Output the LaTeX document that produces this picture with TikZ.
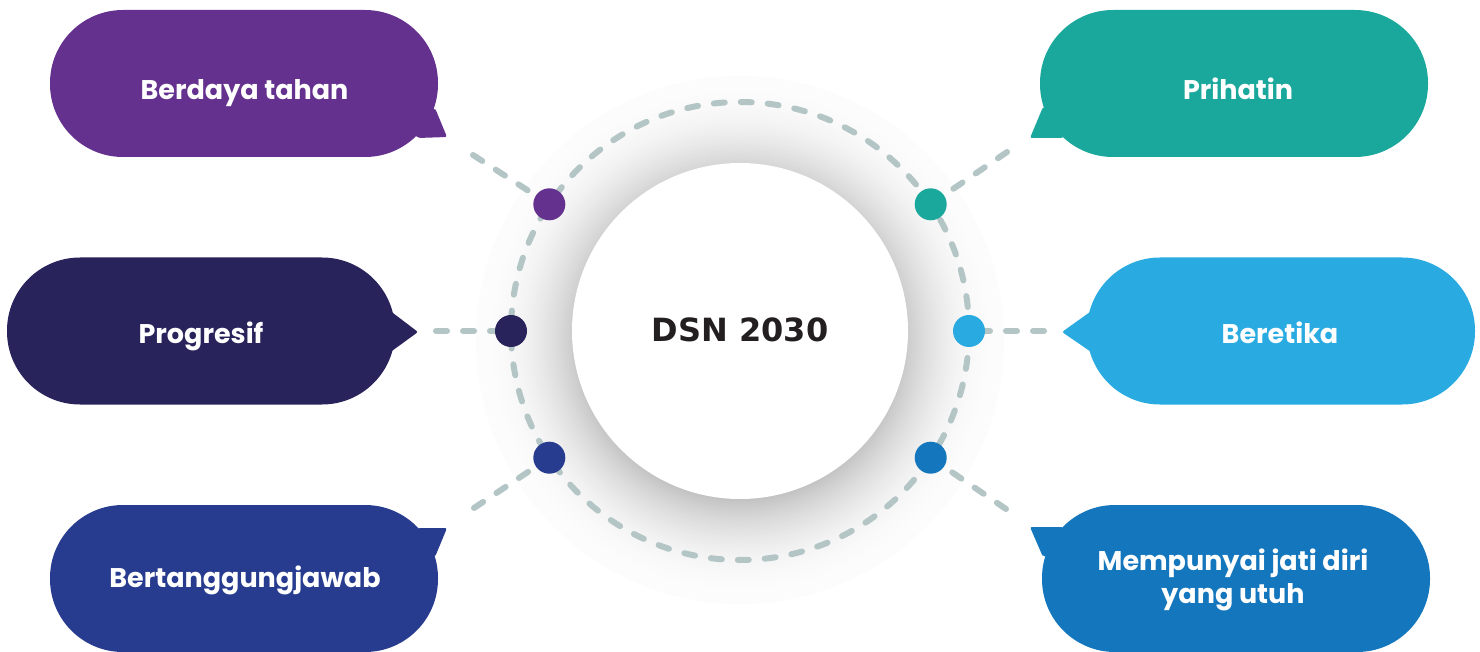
\documentclass[tikz,border=0pt]{standalone}
\usepackage{fontspec}
\setmainfont{Poppins}
\newfontfamily\dsnfont{DejaVu Sans}
\definecolor{cpurple}{HTML}{65318E}
\definecolor{cnavy}{HTML}{29235C}
\definecolor{croyal}{HTML}{283C8F}
\definecolor{cteal}{HTML}{1AA89C}
\definecolor{csky}{HTML}{29ABE2}
\definecolor{cmid}{HTML}{1476BC}
\definecolor{cdash}{RGB}{180,197,198}
\definecolor{ctext}{HTML}{231F20}
\tikzset{
  bubble/.style={rectangle, rounded corners=73pt, minimum width=388pt, minimum height=147pt, inner sep=0pt},
  btext/.style={text=white, font=\fontsize{27}{33}\selectfont\bfseries, inner sep=0pt, align=center},
  dashl/.style={draw=cdash, line width=6pt, line cap=round, dash pattern=on 11pt off 16pt},
  dotnode/.style={circle, minimum size=32pt, inner sep=0pt},
}
\begin{document}
\begin{tikzpicture}[x=1pt,y=-1pt]
\useasboundingbox (0,0) rectangle (1480,652);
% glow and central circle
\foreach \r in {264,262,...,150} {
  \pgfmathsetmacro\p{min(24, 1+23*((264-\r)/104)^2.2)}
  \fill[black!\p] (740,340) circle[radius=\r];
}
\node[circle, fill=white, minimum size=336pt, inner sep=0pt] (c) at (740,331) {};
\node[font=\fontsize{32}{36}\selectfont\dsnfont\bfseries, text=ctext, anchor=base] (ct) at (740,341) {DSN 2030};
% dashed circle
\draw[dashl] (c.center) circle[radius=229];
% bubbles
\node[bubble, fill=cpurple] (b1) at (244,83.5) {};
\fill[cpurple, rounded corners=2pt] (418,138) -- (447,137) -- (435,108) -- (400,120) -- cycle;
\node[bubble, fill=cnavy] (b2) at (201,331) {};
\fill[cnavy, rounded corners=2pt] (385,307) -- (418,332) -- (385,356) -- cycle;
\node[bubble, fill=croyal] (b3) at (244,578.5) {};
\fill[croyal, rounded corners=2pt] (418,528) -- (447,528) -- (435,557) -- (400,545) -- cycle;
\node[bubble, fill=cteal] (b4) at (1234,83.5) {};
\fill[cteal, rounded corners=2pt] (1063,138) -- (1030,138) -- (1043,107) -- (1078,120) -- cycle;
\node[bubble, fill=csky] (b5) at (1281,331) {};
\fill[csky, rounded corners=2pt] (1097,307) -- (1062,332) -- (1097,356) -- cycle;
\node[bubble, fill=cmid] (b6) at (1236,578.5) {};
\fill[cmid, rounded corners=2pt] (1030,527) -- (1063,527) -- (1078,545) -- (1043,557) -- cycle;
% texts
\node[btext, anchor=base] (t1) at (244.5,100) {Berdaya tahan};
\node[btext, anchor=base] (t2) at (201,343) {Progresif};
\node[btext, anchor=base] (t3) at (245,587) {Bertanggungjawab};
\node[btext, anchor=base] (t4) at (1238,100) {Prihatin};
\node[btext, anchor=base] (t5) at (1280,343) {Beretika};
\node[btext] (t6) at (1233,580) {Mempunyai jati diri\\yang utuh};
% dots
\node[dotnode] (d1) at (549.3,204.3) {};
\node[dotnode] (d2) at (511,331) {};
\node[dotnode] (d3) at (549.3,457.7) {};
\node[dotnode] (d4) at (930.7,204.3) {};
\node[dotnode] (d5) at (969,331) {};
\node[dotnode] (d6) at (930.7,457.7) {};
\coordinate (e1) at (473,155);
\coordinate (e2) at (436,331);
\coordinate (e3) at (474,508);
\coordinate (e4) at (1007,152);
\coordinate (e5) at (1044,331);
\coordinate (e6) at (1006,509);
\foreach \i in {1,...,6} { \draw[dashl] (e\i) -- (d\i); }
\fill[cpurple] (d1) circle[radius=16];
\fill[cnavy] (d2) circle[radius=16];
\fill[croyal] (d3) circle[radius=16];
\fill[cteal] (d4) circle[radius=16];
\fill[csky] (d5) circle[radius=16];
\fill[cmid] (d6) circle[radius=16];
\end{tikzpicture}
\end{document}
